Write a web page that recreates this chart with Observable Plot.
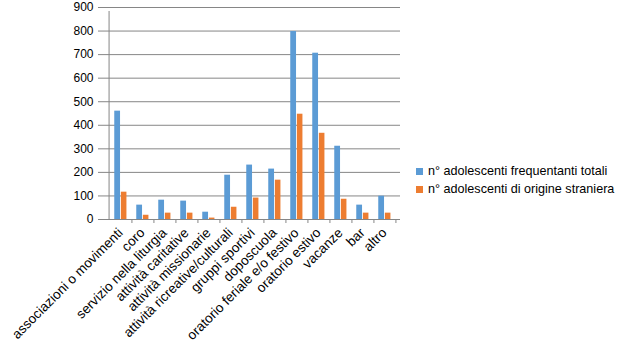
<!DOCTYPE html>
<html><head><meta charset="utf-8">
<script src="https://cdn.jsdelivr.net/npm/d3@7"></script>
<script src="https://cdn.jsdelivr.net/npm/@observablehq/plot@0.6"></script>
<style>
body{margin:0;background:#fff;}
#wrap{position:relative;width:631px;height:361px;font-family:"Liberation Sans",Arial,sans-serif;}
#legend{position:absolute;left:416px;top:162px;font-size:12.6px;color:#000;line-height:18px;}
#legend div{white-space:nowrap;}
#legend span{display:inline-block;width:7px;height:7px;margin-right:5px;vertical-align:0px;}
</style></head>
<body><div id="wrap"><div id="legend"></div></div>
<script>
const categories = ["associazioni o movimenti","coro","servizio nella liturgia","attività caritative","attività missionarie","attività ricreative/culturali","gruppi sportivi","doposcuola","oratorio feriale e/o festivo","oratorio estivo","vacanze","bar","altro"];
const totali = [460,61,82,78,31,188,231,214,798,706,311,61,99];
const straniera = [116,18,27,27,6,52,91,167,447,366,86,27,27];
const seriesNames = ["n° adolescenti frequentanti totali","n° adolescenti di origine straniera"];
const colors = ["#5B9BD5","#ED7D31"];
const yTicks = [0,100,200,300,400,500,600,700,800,900];

const W = 631, H = 361, mL = 103, mR = 231, mT = 7, mB = 142;
const bw = (W - mL - mR) / categories.length;
const t = categories.map((c,i)=>({cat:c, v:totali[i]}));
const s = categories.map((c,i)=>({cat:c, v:straniera[i]}));
const grid = "#868686";

const chart = Plot.plot({
  width: W, height: H, marginLeft: mL, marginRight: mR, marginTop: mT, marginBottom: mB,
  style: {fontFamily: "Liberation Sans, Arial, sans-serif", fontSize: "12px", color: "#000", background: "#fff"},
  x: {type: "band", domain: categories, padding: 0},
  y: {domain: [0, 900]},
  marks: [
    Plot.ruleY(yTicks, {y: d=>d, stroke: grid, strokeWidth: 1}),
    Plot.barY(t, {x: "cat", y: "v", fill: colors[0], insetLeft: bw*0.23, insetRight: bw*0.48}),
    Plot.barY(s, {x: "cat", y: "v", fill: colors[1], insetLeft: bw*0.52, insetRight: bw*0.2}),
    Plot.ruleX(categories, {x: d=>d, dx: bw/2, y1: 0, y2: 0, insetTop: 0, insetBottom: -4, stroke: grid}),
    Plot.ruleX(categories.slice(0,1), {x: d=>d, dx: -bw/2, y1: 0, y2: 900, insetBottom: -4, stroke: grid}),
    Plot.axisY({ticks: yTicks, tickSize: 5, tickPadding: 5, stroke: grid, label: null, fontSize: 12}),
    Plot.axisX({tickSize: 0, tickPadding: 11, tickRotate: -45, label: null, fontSize: 13.5})
  ]
});
document.getElementById("wrap").prepend(chart);
const lg = document.getElementById("legend");
seriesNames.forEach((n,i)=>{
  const d = document.createElement("div");
  d.innerHTML = `<span style="background:${colors[i]}"></span>${n}`;
  lg.appendChild(d);
});
</script></body></html>
